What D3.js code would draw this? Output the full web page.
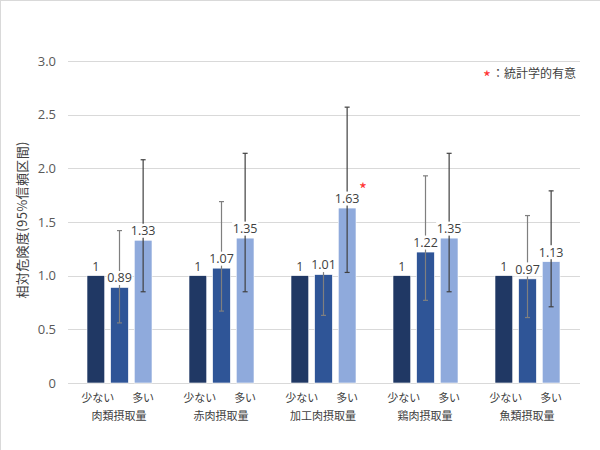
<!DOCTYPE html>
<html><head><meta charset="utf-8">
<script src="https://cdn.jsdelivr.net/npm/d3@7"></script>
<style>body{margin:0;background:#fff}svg{display:block}text{font-family:"Noto Sans CJK JP","Noto Sans",sans-serif}.num{font-family:"Open Sans","Noto Sans",sans-serif}</style>
</head><body><svg id="c" width="600" height="450"></svg>
<script>
const groups = ["肉類摂取量","赤肉摂取量","加工肉摂取量","鶏肉摂取量","魚類摂取量"];
const levels = ["少ない","中間","多い"];
const levelLabels = ["少ない","","多い"];
const valLow = [1,1,1,1,1];
const valMid = [0.89,1.07,1.01,1.22,0.97];
const valHigh = [1.33,1.35,1.63,1.35,1.13];
const midLo = [0.56,0.67,0.63,0.77,0.61];
const midHi = [1.42,1.69,1.10,1.93,1.56];
const highLo = [0.85,0.85,1.03,0.85,0.71];
const highHi = [2.08,2.14,2.57,2.14,1.79];
const significant = [false,false,true,false,false];
const yTicks = [0,0.5,1.0,1.5,2.0,2.5,3.0];
const colors = ["#203864","#2f5597","#8faadc"];
const errColors = [null,"#7f7f7f","#404040"];

const svg = d3.select("#c");
// frame
svg.append("line").attr("x1",0).attr("x2",600).attr("y1",0.5).attr("y2",0.5).attr("stroke","#d9d9d9");
svg.append("line").attr("x1",0.5).attr("x2",0.5).attr("y1",0).attr("y2",450).attr("stroke","#d9d9d9");

const x0 = d3.scaleBand().domain(groups).range([68,578]).padding(0);
const x1 = d3.scaleBand().domain(levels).range([19,84]).paddingInner(0.25).paddingOuter(0);
const y = d3.scaleLinear().domain([0,3]).range([383,61]);

// grid
svg.append("g").selectAll("line").data(yTicks).join("line")
  .attr("x1",68).attr("x2",580).attr("y1",d=>Math.round(y(d))+0.5).attr("y2",d=>Math.round(y(d))+0.5)
  .attr("stroke","#d9d9d9").attr("stroke-width",1);
svg.append("g").selectAll("text").data(yTicks).join("text").attr("class","num")
  .attr("x",56).attr("y",d=>y(d)).attr("dy","0.35em").attr("text-anchor","end")
  .attr("font-size",13).attr("fill","#595959")
  .text(d=>d===0?"0":d3.format(".1f")(d));

// y title
svg.append("text").attr("transform","translate(27,220) rotate(-90)")
  .attr("text-anchor","middle").attr("font-size",13).attr("fill","#404040")
  .attr("textLength",157).attr("lengthAdjust","spacing")
  .text("相対危険度(95%信頼区間)");

const data = groups.map((g,i)=>({g,i,vals:[valLow[i],valMid[i],valHigh[i]],
  err:[null,[midLo[i],midHi[i]],[highLo[i],highHi[i]]]}));

const gg = svg.append("g").selectAll("g").data(data).join("g")
  .attr("transform",d=>`translate(${x0(d.g)},0)`);

// bars
gg.selectAll("rect.bar").data(d=>d.vals.map((v,k)=>({v,k,lvl:levels[k]}))).join("rect")
  .attr("class","bar")
  .attr("x",d=>x1(d.lvl)).attr("width",x1.bandwidth())
  .attr("y",d=>y(d.v)).attr("height",d=>y(0)-y(d.v))
  .attr("fill",d=>colors[d.k]).attr("stroke","#fff").attr("stroke-width",0.6);

// error bars
const eb = gg.selectAll("g.err").data(d=>d.err.map((e,k)=>({e,k,lvl:levels[k]})).filter(d=>d.e)).join("g")
  .attr("class","err").attr("stroke",d=>errColors[d.k]).attr("stroke-width",1.2);
eb.append("line").attr("x1",d=>x1(d.lvl)+x1.bandwidth()/2).attr("x2",d=>x1(d.lvl)+x1.bandwidth()/2)
  .attr("y1",d=>y(d.e[0])).attr("y2",d=>y(d.e[1]));
eb.append("line").attr("x1",d=>x1(d.lvl)+x1.bandwidth()/2-2.5).attr("x2",d=>x1(d.lvl)+x1.bandwidth()/2+2.5)
  .attr("y1",d=>y(d.e[0])).attr("y2",d=>y(d.e[0]));
eb.append("line").attr("x1",d=>x1(d.lvl)+x1.bandwidth()/2-2.5).attr("x2",d=>x1(d.lvl)+x1.bandwidth()/2+2.5)
  .attr("y1",d=>y(d.e[1])).attr("y2",d=>y(d.e[1]));

// value labels with white background
const lab = gg.selectAll("g.lab").data(d=>d.vals.map((v,k)=>({v,k,lvl:levels[k]}))).join("g")
  .attr("class","lab")
  .attr("transform",d=>`translate(${x1(d.lvl)+x1.bandwidth()/2},${y(d.v)-9.5})`);
lab.append("rect").attr("x",d=>d.k===0?-4:-13).attr("width",d=>d.k===0?8:26).attr("y",-7).attr("height",14)
  .attr("fill",d=>d.k===0?"none":"#fff");
lab.append("text").attr("class","num").attr("text-anchor","middle").attr("dy","0.35em").attr("font-size",12.5).attr("fill","#404040")
  .text(d=>String(d.v));

// significance asterisk
gg.filter(d=>significant[d.i]).append("text")
  .attr("x",x1("多い")+x1.bandwidth()+7).attr("y",d=>y(d.vals[2])-12)
  .attr("text-anchor","middle").attr("font-size",17).attr("fill","#ff3333").text("*");

// level labels
gg.selectAll("text.lvl").data(levels.map((l,k)=>({l,k}))).join("text").attr("class","lvl")
  .attr("x",d=>x1(d.l)+x1.bandwidth()/2+(d.k===0?2:0)).attr("y",402).attr("text-anchor","middle")
  .attr("font-size",11).attr("fill","#404040").text(d=>levelLabels[d.k]);
// group labels
gg.append("text").attr("x",x0.bandwidth()/2).attr("y",420).attr("text-anchor","middle")
  .attr("font-size",11).attr("fill","#404040").text(d=>d.g);

// legend
svg.append("text").attr("x",487).attr("y",84).attr("text-anchor","middle").attr("font-size",17).attr("fill","#ff3333").text("*");
svg.append("text").attr("x",576).attr("y",78).attr("text-anchor","end").attr("font-size",12).attr("fill","#404040").text("：統計学的有意");
</script></body></html>
